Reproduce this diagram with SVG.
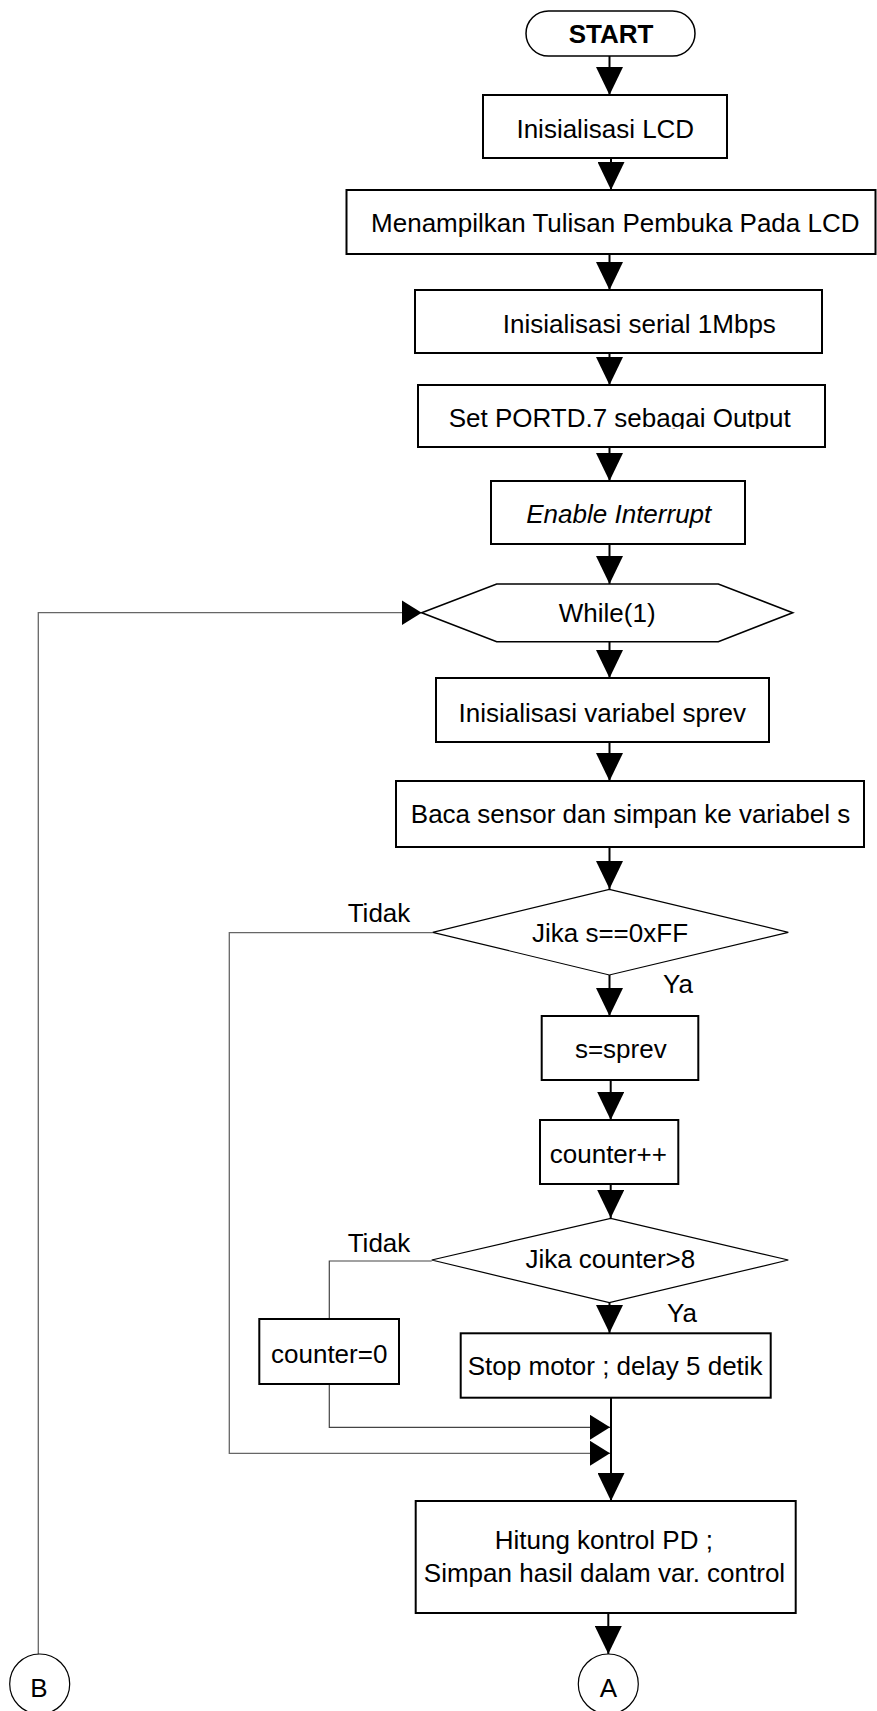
<svg xmlns="http://www.w3.org/2000/svg" width="877" height="1711" viewBox="0 0 877 1711">
<style>
text{font-family:"Liberation Sans",Arial,sans-serif;font-size:26px;fill:#000;text-anchor:middle}
.box{fill:#fff;stroke:#000;stroke-width:2}
.dia{fill:#fff;stroke:#000;stroke-width:1.2}
.main{fill:none;stroke:#000;stroke-width:2}
.side{fill:none;stroke:#444;stroke-width:1.2}
.loop{fill:none;stroke:#666;stroke-width:1.3}
</style>
<defs>
<marker id="av" markerUnits="userSpaceOnUse" markerWidth="28" markerHeight="27" refX="28" refY="13.5" orient="auto"><path d="M0,0 L28,13.5 L0,27 z" fill="#000"/></marker>
<marker id="ah" markerUnits="userSpaceOnUse" markerWidth="20" markerHeight="25" refX="20" refY="12.5" orient="auto"><path d="M0,0 L20,12.5 L0,25 z" fill="#000"/></marker>
<clipPath id="clipPort"><rect x="418" y="385" width="407" height="44"/></clipPath>
</defs>
<rect width="877" height="1711" fill="#fff"/>
<g id="connectors">
<line class="main" x1="609.5" y1="56" x2="609.5" y2="95" marker-end="url(#av)"/>
<line class="main" x1="611" y1="158" x2="611" y2="190" marker-end="url(#av)"/>
<line class="main" x1="609.5" y1="254" x2="609.5" y2="290" marker-end="url(#av)"/>
<line class="main" x1="609.5" y1="353" x2="609.5" y2="385" marker-end="url(#av)"/>
<line class="main" x1="609.5" y1="447" x2="609.5" y2="481" marker-end="url(#av)"/>
<line class="main" x1="609.5" y1="544" x2="609.5" y2="584" marker-end="url(#av)"/>
<line class="main" x1="609.5" y1="642" x2="609.5" y2="678" marker-end="url(#av)"/>
<line class="main" x1="609.5" y1="742" x2="609.5" y2="781" marker-end="url(#av)"/>
<line class="main" x1="609.5" y1="847" x2="609.5" y2="889" marker-end="url(#av)"/>
<line class="main" x1="609.5" y1="975" x2="609.5" y2="1016" marker-end="url(#av)"/>
<line class="main" x1="610.7" y1="1080" x2="610.7" y2="1120" stroke-width="3" marker-end="url(#av)"/>
<line class="main" x1="610.7" y1="1184" x2="610.7" y2="1218" stroke-width="3" marker-end="url(#av)"/>
<line class="main" x1="609.5" y1="1303" x2="609.5" y2="1333" marker-end="url(#av)"/>
<line class="main" x1="611" y1="1398" x2="611" y2="1501" stroke-width="3.3" marker-end="url(#av)"/>
<line class="main" x1="608.3" y1="1613" x2="608.3" y2="1654" marker-end="url(#av)"/>
<polyline class="loop" points="432.7,932.7 229.3,932.7 229.3,1453.3 610,1453.3" marker-end="url(#ah)"/>
<polyline class="side" points="431.7,1261 329.3,1261 329.3,1319"/>
<polyline class="side" points="329.3,1384 329.3,1427.3 610,1427.3" marker-end="url(#ah)"/>
<polyline class="loop" points="38.3,1654 38.3,612.7 421.7,612.7" marker-end="url(#ah)"/>
</g>
<g id="start">
<rect x="526" y="11" width="169" height="45" rx="22.5" ry="22.5" fill="#fff" stroke="#000" stroke-width="1.5"/>
<text x="611" y="42.7" font-weight="bold">START</text>
</g>
<g id="lcd">
<rect class="box" x="483" y="95" width="244" height="63"/>
<text x="605.3" y="137.7">Inisialisasi LCD</text>
</g>
<g id="menampilkan">
<rect class="box" x="346.5" y="190" width="529" height="64"/>
<text x="615.3" y="232.3">Menampilkan Tulisan Pembuka Pada LCD</text>
</g>
<g id="serial">
<rect class="box" x="415" y="290" width="407" height="63"/>
<text x="639.3" y="333.3">Inisialisasi serial 1Mbps</text>
</g>
<g id="portd">
<rect class="box" x="418" y="385" width="407" height="62"/>
<text x="619.7" y="426.7" clip-path="url(#clipPort)">Set PORTD.7 sebagai Output</text>
</g>
<g id="enable">
<rect class="box" x="491" y="481" width="254" height="63"/>
<text x="618.8" y="523.3" font-style="italic">Enable Interrupt</text>
</g>
<g id="while">
<polygon points="421.7,612.7 496.7,584 718.3,584 792.7,612.7 718.3,641.7 496.7,641.7" fill="#fff" stroke="#000" stroke-width="1.6"/>
<text x="607.2" y="621.7">While(1)</text>
</g>
<g id="sprev">
<rect class="box" x="436" y="678" width="333" height="64"/>
<text x="602.3" y="721.7">Inisialisasi variabel sprev</text>
</g>
<g id="baca">
<rect class="box" x="396" y="781" width="468" height="66"/>
<text x="630.5" y="823.3">Baca sensor dan simpan ke variabel s</text>
</g>
<g id="decision1">
<polygon class="dia" points="609.3,889.3 788.3,932.3 609.3,975 432.7,932.3"/>
<text x="610" y="941.7">Jika s==0xFF</text>
<text x="379" y="921.7">Tidak</text>
<text x="678" y="993.3">Ya</text>
</g>
<g id="s_sprev">
<rect class="box" x="541.7" y="1016" width="156.6" height="64"/>
<text x="620.8" y="1058.3">s=sprev</text>
</g>
<g id="counterpp">
<rect class="box" x="540" y="1120" width="138.3" height="64"/>
<text x="608.3" y="1162.7">counter++</text>
</g>
<g id="decision2">
<polygon class="dia" points="610.7,1218.3 788.3,1260 609.3,1302.7 431.7,1260"/>
<text x="610.3" y="1268.3">Jika counter&gt;8</text>
<text x="379" y="1252">Tidak</text>
<text x="682" y="1322.3">Ya</text>
</g>
<g id="counter0">
<rect class="box" x="259.3" y="1319" width="139.7" height="65"/>
<text x="329.2" y="1362.9">counter=0</text>
</g>
<g id="stop">
<rect class="box" x="460.7" y="1333.3" width="310" height="64.4"/>
<text x="615.2" y="1375">Stop motor ; delay 5 detik</text>
</g>
<g id="hitung">
<rect class="box" x="415.7" y="1501" width="380" height="112"/>
<text x="603.8" y="1549.3">Hitung kontrol PD ;</text>
<text x="604.5" y="1581.7">Simpan hasil dalam var. control</text>
</g>
<g id="connA">
<circle cx="608.3" cy="1684" r="30" fill="#fff" stroke="#000" stroke-width="1.2"/>
<text x="608.3" y="1696.7" font-size="31">A</text>
</g>
<g id="connB">
<circle cx="39.7" cy="1684" r="30" fill="#fff" stroke="#000" stroke-width="1.2"/>
<text x="39" y="1697.4" font-size="31">B</text>
</g>
</svg>
